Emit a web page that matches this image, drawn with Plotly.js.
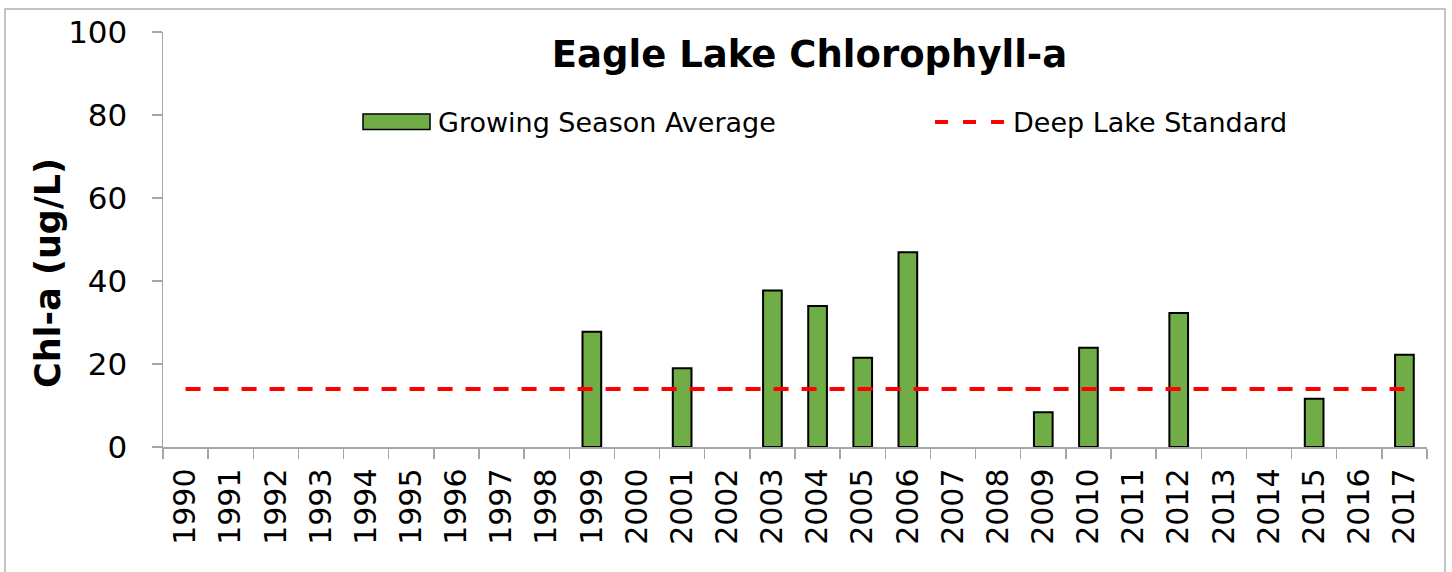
<!DOCTYPE html>
<html>
<head>
<meta charset="utf-8">
<script src="https://cdn.plot.ly/plotly-3.0.1.min.js"></script>
<style>
  html, body { margin: 0; padding: 0; background: #ffffff; }
  #chart { width: 1452px; height: 572px; }
</style>
</head>
<body>
<div id="chart"></div>
<script>
// ---- Data ----
const years = ['1990','1991','1992','1993','1994','1995','1996','1997','1998','1999',
               '2000','2001','2002','2003','2004','2005','2006','2007','2008','2009',
               '2010','2011','2012','2013','2014','2015','2016','2017'];
const growingSeasonAverage = [null, null, null, null, null, null, null, null, null, 27.8,
                              null, 19.0, null, 37.7, 34.0, 21.5, 46.9, null, null, 8.4,
                              23.9, null, 32.3, null, null, 11.6, null, 22.2];
const deepLakeStandard = 14;
const standardSeries = years.map(() => deepLakeStandard);

const titleText = 'Eagle Lake Chlorophyll-a';
const yTitleText = 'Chl-a (ug/L)';
const barName = 'Growing Season Average';
const lineName = 'Deep Lake Standard';

// ---- Layout helpers (pixel -> paper) ----
const W = 1452, H = 572;
const M = { l: 163, r: 25, t: 32, b: 125 };
const PW = W - M.l - M.r, PH = H - M.t - M.b;
const px = x => (x - M.l) / PW;
const py = y => (H - M.b - y) / PH;

const FONT = 'DejaVu Sans, Verdana, sans-serif';
const AXIS_GRAY = '#a6a6a6';

const traces = [
  {
    type: 'bar',
    x: years,
    y: growingSeasonAverage,
    name: barName,
    marker: { color: '#70ad47', line: { color: '#000000', width: 2 } },
    showlegend: false,
    hoverinfo: 'x+y'
  },
  {
    type: 'scatter',
    mode: 'lines',
    x: years,
    y: standardSeries,
    name: lineName,
    line: { color: '#ff0000', width: 4, dash: '15px,13px' },
    showlegend: false,
    hoverinfo: 'x+y'
  }
];

const layout = {
  width: W, height: H,
  margin: M,
  paper_bgcolor: '#ffffff',
  plot_bgcolor: '#ffffff',
  font: { family: FONT, color: '#000000' },
  bargap: 0.586,
  showlegend: false,
  title: {
    text: '<b>' + titleText + '</b>',
    font: { family: FONT, size: 37, color: '#000000' },
    x: 809.5 / W, xref: 'container', xanchor: 'center',
    y: 1 - 54 / H, yref: 'container', yanchor: 'middle'
  },
  xaxis: {
    type: 'category',
    range: [-0.5, years.length - 0.5],
    tickangle: -90,
    tickfont: { family: FONT, size: 30, color: '#000000' },
    ticks: 'outside', ticklen: 10, tickwidth: 1.5, tickcolor: AXIS_GRAY,
    tickson: 'boundaries',
    ticklabelstandoff: 8,
    showline: true, linecolor: AXIS_GRAY, linewidth: 1.5,
    showgrid: false, zeroline: false, fixedrange: true
  },
  yaxis: {
    range: [0, 100],
    dtick: 20, tick0: 0,
    tickfont: { family: FONT, size: 31, color: '#000000' },
    ticks: 'outside', ticklen: 10, tickwidth: 1.5, tickcolor: AXIS_GRAY,
    ticklabelstandoff: 18,
    showline: true, linecolor: AXIS_GRAY, linewidth: 1.5,
    showgrid: false, zeroline: false, fixedrange: true
  },
  shapes: [
    // chart area border
    { type: 'rect', xref: 'paper', yref: 'paper',
      x0: px(5), x1: px(1445), y0: py(600), y1: py(9),
      line: { color: '#b0b0b0', width: 1.5 }, fillcolor: 'rgba(0,0,0,0)', layer: 'below' },
    // legend swatch: bar
    { type: 'rect', xref: 'paper', yref: 'paper',
      x0: px(363), x1: px(430), y0: py(129.5), y1: py(114),
      line: { color: '#000000', width: 1.5 }, fillcolor: '#70ad47' },
    // legend swatch: dashed line
    { type: 'line', xref: 'paper', yref: 'paper',
      x0: px(935), x1: px(1005), y0: py(122), y1: py(122),
      line: { color: '#ff0000', width: 4, dash: '13px,15px' } }
  ],
  annotations: [
    { text: '<b>' + yTitleText + '</b>', textangle: -90,
      xref: 'paper', yref: 'paper', x: px(48), y: py(273),
      xanchor: 'center', yanchor: 'middle', showarrow: false,
      font: { family: FONT, size: 35, color: '#000000' } },
    { text: barName, xref: 'paper', yref: 'paper',
      x: px(436), y: py(122), xanchor: 'left', yanchor: 'middle', showarrow: false,
      font: { family: FONT, size: 27, color: '#000000' } },
    { text: lineName, xref: 'paper', yref: 'paper',
      x: px(1011), y: py(122), xanchor: 'left', yanchor: 'middle', showarrow: false,
      font: { family: FONT, size: 27, color: '#000000' } }
  ]
};

Plotly.newPlot('chart', traces, layout, { displayModeBar: false, staticPlot: true });
</script>
</body>
</html>
